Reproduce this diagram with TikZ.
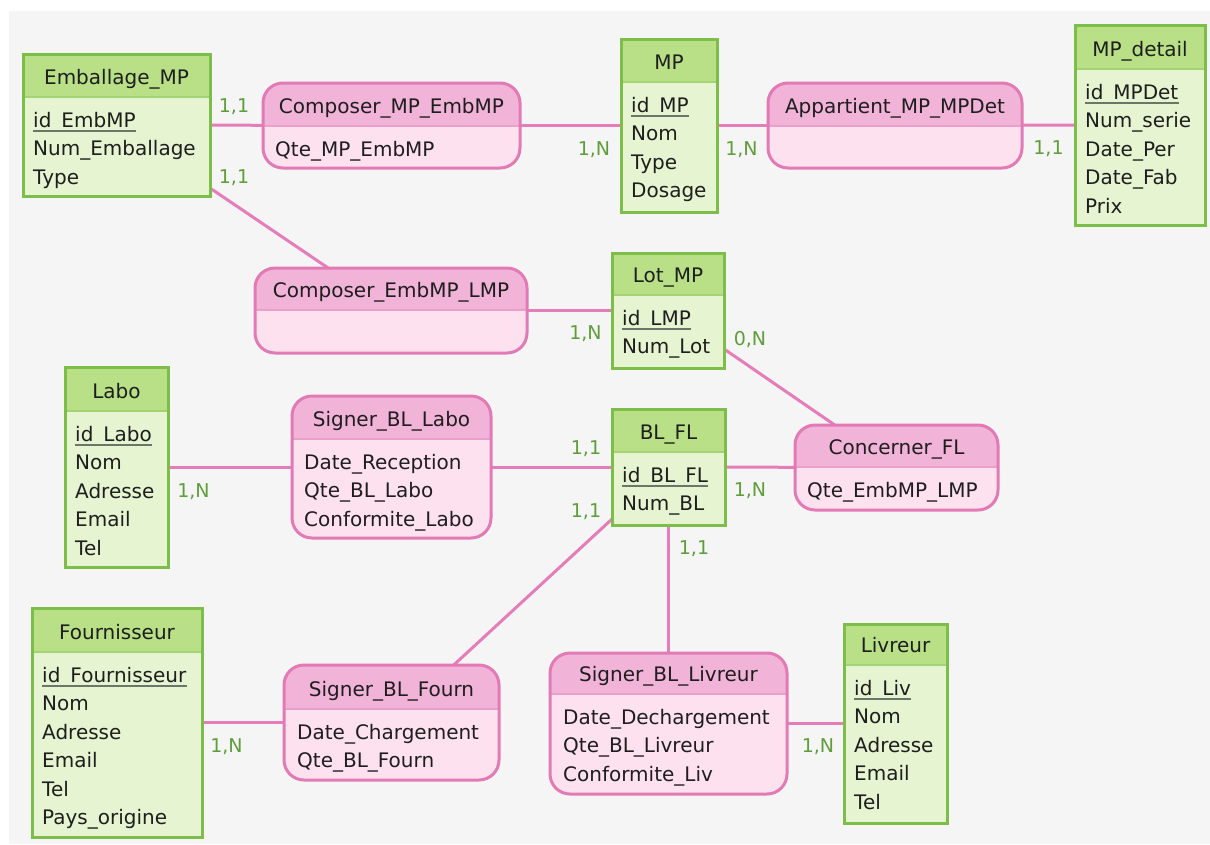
\documentclass[tikz,border=0pt]{standalone}
\usepackage{fontspec}
\setmainfont{DejaVu Sans}

\definecolor{paper}{HTML}{F5F5F5}
\definecolor{entline}{HTML}{7DBE4A}
\definecolor{enthead}{HTML}{B9E086}
\definecolor{entbody}{HTML}{E6F4D1}
\definecolor{entsepc}{HTML}{A3D474}
\definecolor{relline}{HTML}{E27AB5}
\definecolor{relhead}{HTML}{F2B3D8}
\definecolor{relbody}{HTML}{FDE1EF}
\definecolor{relsepc}{HTML}{EAA0CA}
\definecolor{linkc}{HTML}{E57DBA}
\definecolor{cardc}{HTML}{5E9E3A}
\definecolor{ink}{HTML}{1E1E1E}
\definecolor{keyc}{HTML}{6B7569}

\pgfdeclarelayer{back}
\pgfdeclarelayer{links}
\pgfsetlayers{back,links,main}

\tikzset{
  entbox/.style={rectangle, fill=entbody, inner sep=0pt, outer sep=0pt},
  relbox/.style={rectangle, rounded corners=20pt, fill=relbody, inner sep=0pt, outer sep=0pt},
  entframe/.style={draw=entline, line width=3pt},
  relframe/.style={draw=relline, line width=3pt, rounded corners=20pt},
  entsep/.style={draw=entsepc, line width=2pt},
  relsep/.style={draw=relsepc, line width=2pt},
  title/.style={anchor=base, inner sep=0pt, text=ink, font=\fontsize{20}{24}\selectfont},
  attr/.style={anchor=base west, inner sep=0pt, text=ink, font=\fontsize{20}{24}\selectfont},
  keyline/.style={draw=keyc, line width=2pt},
  card/.style={anchor=base, inner sep=0pt, text=cardc, font=\fontsize{19}{23}\selectfont},
  link/.style={draw=linkc, line width=3pt},
}

% entity: name, x1, y1, x2, y2, header separator y, title
\newcommand\erEntity[7]{%
  \node[entbox, minimum width={#4-#2}, minimum height={#5-#3}] (#1) at ({(#2+#4)/2},{(#3+#5)/2}) {};
  \fill[enthead] (#2,#3) rectangle (#4,#6);
  \draw[entsep] (#2,#6) -- (#4,#6);
  \draw[entframe] (#1.north west) rectangle (#1.south east);
  \node[title] (#1-title) at ({(#2+#4)/2},{#6-12.5}) {#7};
}
% association: name, x1, y1, x2, y2, header separator y, title
\newcommand\erRelation[7]{%
  \node[relbox, minimum width={#4-#2}, minimum height={#5-#3}] (#1) at ({(#2+#4)/2},{(#3+#5)/2}) {};
  \begin{scope}
    \clip[rounded corners=20pt] (#1.north west) rectangle (#1.south east);
    \fill[relhead] (#2,#3) rectangle (#4,#6);
  \end{scope}
  \draw[relsep] (#2,#6) -- (#4,#6);
  \draw[relframe] (#1.north west) rectangle (#1.south east);
  \node[title] (#1-title) at ({(#2+#4)/2},{#6-12.5}) {#7};
}
% plain attribute and key attribute (underlined)
\newcommand\erAttr[4]{\node[attr] (#1) at (#2,#3) {#4};}
\newcommand\erKey[4]{%
  \node[attr] (#1) at (#2,#3) {#4};
  \draw[keyline] ([yshift=-3.5pt]#1.base west) -- ([yshift=-3.5pt]#1.base east);
}

\begin{document}
\begin{tikzpicture}[x=1pt,y=-1pt]
\useasboundingbox (0,0) rectangle (1210,844);
\begin{pgfonlayer}{back}
  \fill[paper] (9,11) rectangle (1210,844);
\end{pgfonlayer}

% ---------- entities ----------
\erEntity{emb}{23}{54}{210}{196}{97}{Emballage\_MP}
\erKey{emb-a1}{33}{127}{id\_EmbMP}
\erAttr{emb-a2}{33}{155.5}{Num\_Emballage}
\erAttr{emb-a3}{33}{184}{Type}

\erEntity{mp}{621}{39}{717}{212}{82}{MP}
\erKey{mp-a1}{631}{112}{id\_MP\ }
\erAttr{mp-a2}{631}{140.5}{Nom}
\erAttr{mp-a3}{631}{169}{Type}
\erAttr{mp-a4}{631}{197.5}{Dosage}

\erEntity{mpd}{1075}{25}{1205}{225}{69}{MP\_detail}
\erKey{mpd-a1}{1085}{99}{id\_MPDet\ }
\erAttr{mpd-a2}{1085}{127.5}{Num\_serie}
\erAttr{mpd-a3}{1085}{156}{Date\_Per}
\erAttr{mpd-a4}{1085}{184.5}{Date\_Fab}
\erAttr{mpd-a5}{1085}{213}{Prix}

\erEntity{lot}{612}{253}{724}{368}{295}{Lot\_MP}
\erKey{lot-a1}{622}{325}{id\_LMP}
\erAttr{lot-a2}{622}{353.5}{Num\_Lot}

\erEntity{labo}{65}{367}{168}{567}{411}{Labo}
\erKey{labo-a1}{75}{441}{id\_Labo}
\erAttr{labo-a2}{75}{469.5}{Nom}
\erAttr{labo-a3}{75}{498}{Adresse}
\erAttr{labo-a4}{75}{526.5}{Email}
\erAttr{labo-a5}{75}{555}{Tel}

\erEntity{bl}{612}{409}{725}{525}{452}{BL\_FL}
\erKey{bl-a1}{622}{482}{id\_BL\_FL\ }
\erAttr{bl-a2}{622}{510.5}{Num\_BL}

\erEntity{four}{32}{608}{202}{837}{652}{Fournisseur}
\erKey{four-a1}{42}{682}{id\_Fournisseur}
\erAttr{four-a2}{42}{710.5}{Nom}
\erAttr{four-a3}{42}{739}{Adresse}
\erAttr{four-a4}{42}{767.5}{Email}
\erAttr{four-a5}{42}{796}{Tel}
\erAttr{four-a6}{42}{824.5}{Pays\_origine}

\erEntity{liv}{844}{624}{947}{823}{665}{Livreur}
\erKey{liv-a1}{854}{695}{id\_Liv\ }
\erAttr{liv-a2}{854}{723.5}{Nom}
\erAttr{liv-a3}{854}{752}{Adresse}
\erAttr{liv-a4}{854}{780.5}{Email}
\erAttr{liv-a5}{854}{809}{Tel}

% ---------- associations ----------
\erRelation{cme}{263}{83}{520}{168}{126}{Composer\_MP\_EmbMP}
\erAttr{cme-a1}{275}{156}{Qte\_MP\_EmbMP}

\erRelation{app}{768}{83}{1022}{168}{126}{Appartient\_MP\_MPDet}

\erRelation{cel}{255}{268}{527}{353}{310}{Composer\_EmbMP\_LMP}

\erRelation{conc}{795}{425}{998}{510}{467}{Concerner\_FL}
\erAttr{conc-a1}{807}{497}{Qte\_EmbMP\_LMP}

\erRelation{sbl}{292}{396}{491}{538}{439}{Signer\_BL\_Labo}
\erAttr{sbl-a1}{304}{469}{Date\_Reception}
\erAttr{sbl-a2}{304}{497.5}{Qte\_BL\_Labo}
\erAttr{sbl-a3}{304}{526}{Conformite\_Labo}

\erRelation{sbf}{284}{665}{499}{780}{709}{Signer\_BL\_Fourn}
\erAttr{sbf-a1}{297}{739}{Date\_Chargement}
\erAttr{sbf-a2}{297}{767.5}{Qte\_BL\_Fourn}

\erRelation{sbv}{550}{653}{787}{794}{694}{Signer\_BL\_Livreur}
\erAttr{sbv-a1}{563}{724}{Date\_Dechargement}
\erAttr{sbv-a2}{563}{752.5}{Qte\_BL\_Livreur}
\erAttr{sbv-a3}{563}{781}{Conformite\_Liv}

% ---------- links ----------
\begin{pgfonlayer}{links}
  \draw[link] (emb) -- (cme);
  \draw[link] (cme) -- (mp);
  \draw[link] (mp) -- (app);
  \draw[link] (app) -- (mpd);
  \draw[link] (emb) -- (cel);
  \draw[link] (cel) -- (lot);
  \draw[link] (lot) -- (conc);
  \draw[link] (labo) -- (sbl);
  \draw[link] (sbl) -- (bl);
  \draw[link] (bl) -- (conc);
  \draw[link] (bl) -- (sbf);
  \draw[link] (bl) -- (sbv);
  \draw[link] (four) -- (sbf);
  \draw[link] (sbv) -- (liv);
\end{pgfonlayer}

% ---------- cardinalities ----------
\node[card] (k1) at (234,112) {1,1};
\node[card] (k2) at (234,183) {1,1};
\node[card] (k3) at (594,155) {1,N};
\node[card] (k4) at (741.5,155) {1,N};
\node[card] (k5) at (1048.5,154) {1,1};
\node[card] (k6) at (585.5,339) {1,N};
\node[card] (k7) at (750,345) {0,N};
\node[card] (k8) at (193.5,497) {1,N};
\node[card] (k9) at (586,454) {1,1};
\node[card] (k10) at (586,517) {1,1};
\node[card] (k11) at (750,496) {1,N};
\node[card] (k12) at (694,554) {1,1};
\node[card] (k13) at (226.5,752) {1,N};
\node[card] (k14) at (818,752) {1,N};
\end{tikzpicture}
\end{document}
